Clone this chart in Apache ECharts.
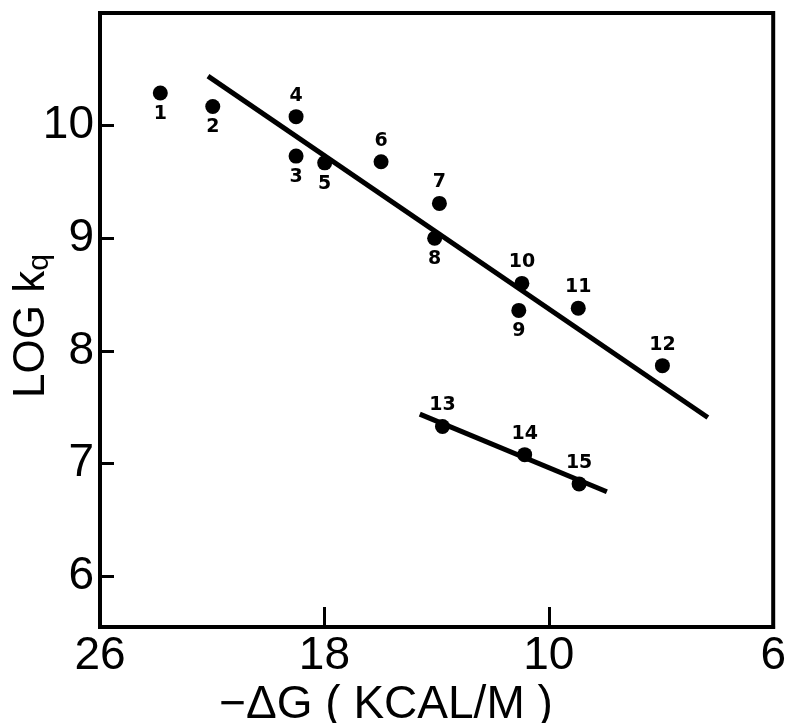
<!DOCTYPE html>
<html>
<head>
<meta charset="utf-8">
<script src="https://cdn.jsdelivr.net/npm/echarts@6/dist/echarts.min.js"></script>
<style>
html, body { margin: 0; padding: 0; background: #fff; }
#chart { width: 789px; height: 723px; }
</style>
</head>
<body>
<div id="chart"></div>
<script>
// 数据点：x = -ΔG，y = LOG kq
var pointNames = ['1', '2', '3', '4', '5', '6', '7', '8', '9', '10', '11', '12', '13', '14', '15'];
var dG = [23.85, 21.98, 19.01, 19.01, 17.99, 15.98, 13.9, 14.07, 11.07, 10.96, 8.95, 5.95, 13.79, 10.86, 8.92];
var logKq = [10.29, 10.17, 9.73, 10.08, 9.67, 9.68, 9.31, 9.0, 8.36, 8.6, 8.38, 7.87, 7.33, 7.08, 6.82];

// 两条拟合直线的端点
var line1X = [22.15, 4.33];
var line1Y = [10.44, 7.41];
var line2X = [14.6, 7.93];
var line2Y = [7.44, 6.75];

// 刻度
var xTicks = [26, 18, 10, 2];
var xTickLabels = ['26', '18', '10', '6'];
var yTicks = [6, 7, 8, 9, 10];

// 标签在点下方的编号
var labelBelow = ['1', '2', '3', '5', '8', '9'];

function pairs(xs, ys) {
    var out = [];
    for (var i = 0; i < xs.length; i++) {
        out.push([xs[i], ys[i]]);
    }
    return out;
}

var pointData = [];
for (var i = 0; i < pointNames.length; i++) {
    var below = labelBelow.indexOf(pointNames[i]) >= 0;
    pointData.push({
        name: pointNames[i],
        value: [dG[i], logKq[i]],
        label: {position: below ? 'bottom' : 'top'}
    });
}

var tickFont = 'Liberation Sans';

var option = {
    animation: false,
    backgroundColor: '#fff',
    grid: {
        left: 100,
        right: 9,
        top: 13,
        bottom: 96,
        show: true,
        borderColor: '#000',
        borderWidth: 4
    },
    xAxis: {
        type: 'value',
        inverse: true,
        min: 2,
        max: 26,
        axisLine: {show: true, lineStyle: {color: '#000', width: 4}},
        axisTick: {
            show: true,
            inside: true,
            length: 20,
            customValues: xTicks,
            lineStyle: {color: '#000', width: 3}
        },
        axisLabel: {
            customValues: xTicks,
            showMinLabel: true,
            showMaxLabel: true,
            margin: 6,
            color: '#000',
            fontFamily: tickFont,
            fontSize: 46,
            formatter: function (v) {
                var k = xTicks.indexOf(Math.round(v));
                return k < 0 ? '' : xTickLabels[k];
            }
        },
        splitLine: {show: false}
    },
    yAxis: {
        type: 'value',
        min: 5.55,
        max: 11,
        axisLine: {show: true, lineStyle: {color: '#000', width: 4}},
        axisTick: {
            show: true,
            inside: true,
            length: 14,
            customValues: yTicks,
            lineStyle: {color: '#000', width: 3}
        },
        axisLabel: {
            customValues: yTicks,
            margin: 6,
            color: '#000',
            fontFamily: tickFont,
            fontSize: 46
        },
        splitLine: {show: false}
    },
    graphic: [
        {
            type: 'text',
            x: 32,
            y: 326,
            rotation: Math.PI / 2,
            style: {
                text: '{a|LOG k}{b|q}',
                align: 'center',
                verticalAlign: 'middle',
                fill: '#000',
                rich: {
                    a: {fontFamily: tickFont, fontSize: 44, fill: '#000', lineHeight: 50},
                    b: {fontFamily: tickFont, fontSize: 30, fill: '#000', padding: [16, 0, 0, 0]}
                }
            }
        },
        {
            type: 'text',
            x: 386,
            y: 705,
            style: {
                text: '−ΔG ( KCAL/M )',
                align: 'center',
                verticalAlign: 'middle',
                fill: '#000',
                font: '46px "Liberation Sans"'
            }
        }
    ],
    series: [
        {
            type: 'line',
            data: pairs(line1X, line1Y),
            symbol: 'none',
            lineStyle: {color: '#000', width: 5},
            z: 2
        },
        {
            type: 'line',
            data: pairs(line2X, line2Y),
            symbol: 'none',
            lineStyle: {color: '#000', width: 5},
            z: 2
        },
        {
            type: 'scatter',
            data: pointData,
            symbol: 'circle',
            symbolSize: 15,
            itemStyle: {color: '#000', opacity: 1},
            label: {
                show: true,
                formatter: '{b}',
                distance: 4,
                color: '#000',
                fontFamily: 'DejaVu Sans',
                fontWeight: 'bold',
                fontSize: 19
            },
            z: 3
        }
    ]
};

var myChart = echarts.init(document.getElementById('chart'));
myChart.setOption(option);
</script>
</body>
</html>
